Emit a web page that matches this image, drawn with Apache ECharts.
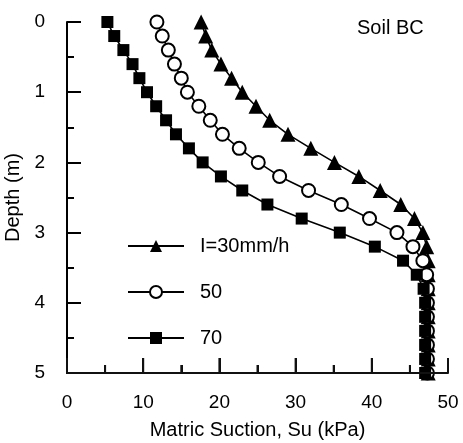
<!DOCTYPE html>
<html>
<head>
<meta charset="utf-8">
<script src="https://cdn.jsdelivr.net/npm/echarts@6/dist/echarts.min.js"></script>
<style>
  html, body { margin: 0; padding: 0; background: #fff; }
  #chart { width: 463px; height: 443px; }
</style>
</head>
<body>
<div id="chart"></div>
<script>
// depth of each reading (m)
var depths = [0, 0.2, 0.4, 0.6, 0.8, 1.0, 1.2, 1.4, 1.6, 1.8, 2.0, 2.2, 2.4, 2.6,
              2.8, 3.0, 3.2, 3.4, 3.6, 3.8, 4.0, 4.2, 4.4, 4.6, 4.8, 5.0];
// matric suction (kPa) for each rainfall intensity
var su30 = [17.6, 18.2, 19.0, 20.2, 21.6, 23.0, 24.8, 26.6, 29.0, 32.0, 35.1, 38.3, 41.1, 43.8,
            45.6, 46.7, 47.2, 47.4, 47.4, 47.4, 47.4, 47.4, 47.4, 47.4, 47.4, 47.4];
var su50 = [11.8, 12.5, 13.3, 14.1, 15.0, 15.8, 17.3, 18.8, 20.4, 22.6, 25.1, 27.9, 31.7, 36.0,
            39.7, 43.3, 45.4, 46.7, 47.2, 47.3, 47.3, 47.3, 47.3, 47.3, 47.3, 47.3];
var su70 = [5.3, 6.2, 7.4, 8.6, 9.5, 10.5, 11.7, 13.0, 14.3, 16.0, 17.8, 20.2, 23.0, 26.3,
            30.8, 35.8, 40.4, 44.1, 45.9, 46.8, 47.0, 47.0, 47.0, 47.0, 47.0, 47.0];
var names = ['I=30mm/h', '50', '70'];
var xMajor = [0, 10, 20, 30, 40, 50];
var xMinor = [5, 15, 25, 35, 45];

function pairs(su) {
    var out = [];
    for (var i = 0; i < depths.length; i++) {
        out.push([su[i], depths[i]]);
    }
    return out;
}

var font = 'Liberation Sans, Arial, sans-serif';
var ink = '#111';
var chart = echarts.init(document.getElementById('chart'));

var option = {
    backgroundColor: '#fff',
    animation: false,
    textStyle: { fontFamily: font, color: '#000' },
    grid: { left: 67, right: 15, top: 22, bottom: 70, outerBoundsMode: 'none' },
    legend: {
        orient: 'vertical',
        left: 122,
        top: 231,
        itemWidth: 56,
        itemHeight: 15,
        itemGap: 26,
        data: names,
        textStyle: { fontFamily: font, fontSize: 20, color: '#000', padding: [0, 0, 0, 11] }
    },
    xAxis: {
        type: 'value',
        position: 'bottom',
        min: 0,
        max: 50,
        interval: 10,
        name: 'Matric Suction, Su (kPa)',
        nameLocation: 'middle',
        nameGap: 47,
        nameTextStyle: { fontFamily: font, fontSize: 20, color: '#000' },
        axisLine: { show: true, onZero: false, lineStyle: { color: ink, width: 2 } },
        axisTick: { show: true, inside: true, length: 15, lineStyle: { color: ink, width: 2 } },
        minorTick: { show: true, splitNumber: 2, length: 8, lineStyle: { color: ink, width: 2 } },
        axisLabel: { fontFamily: font, fontSize: 19, color: '#000', margin: 20 },
        splitLine: { show: false }
    },
    yAxis: {
        type: 'value',
        position: 'left',
        inverse: true,
        min: 0,
        max: 5,
        interval: 1,
        name: 'Depth (m)',
        nameLocation: 'middle',
        nameGap: 35,
        nameTextStyle: { fontFamily: font, fontSize: 20, color: '#000' },
        axisLine: { show: true, onZero: false, lineStyle: { color: '#000', width: 2 } },
        axisTick: { show: true, inside: true, length: 14, lineStyle: { color: '#000', width: 2 } },
        minorTick: { show: true, splitNumber: 2, length: 7, lineStyle: { color: '#000', width: 2 } },
        axisLabel: { fontFamily: font, fontSize: 19, color: '#000', margin: 22 },
        splitLine: { show: false }
    },
    series: [{
        name: names[0],
        type: 'line',
        data: pairs(su30),
        symbol: 'triangle',
        symbolSize: 15,
        itemStyle: { color: '#000' },
        lineStyle: { color: '#000', width: 1.6 }
    }, {
        name: names[1],
        type: 'line',
        data: pairs(su50),
        symbol: 'circle',
        symbolSize: 13,
        itemStyle: { color: '#fff', borderColor: '#000', borderWidth: 2 },
        lineStyle: { color: '#000', width: 1.6 }
    }, {
        name: names[2],
        type: 'line',
        data: pairs(su70),
        symbol: 'rect',
        symbolSize: 12,
        itemStyle: { color: '#000' },
        lineStyle: { color: '#000', width: 1.6 }
    }]
};

chart.setOption(option);

// bottom axis line and inward ticks again as graphics, placed with the chart's own scales
var yBase = chart.convertToPixel({ yAxisIndex: 0 }, 5);
var xLeft = chart.convertToPixel({ xAxisIndex: 0 }, 0);
var xRight = chart.convertToPixel({ xAxisIndex: 0 }, 50);
var stroke = { stroke: ink, lineWidth: 2 };
var deco = [{
    type: 'line',
    shape: { x1: xLeft - 1, y1: yBase, x2: xRight, y2: yBase },
    style: stroke,
    z: 100
}];
xMajor.forEach(function (v) {
    var px = chart.convertToPixel({ xAxisIndex: 0 }, v);
    deco.push({ type: 'line', shape: { x1: px, y1: yBase, x2: px, y2: yBase - 15 }, style: stroke, z: 100 });
});
xMinor.forEach(function (v) {
    var px = chart.convertToPixel({ xAxisIndex: 0 }, v);
    deco.push({ type: 'line', shape: { x1: px, y1: yBase, x2: px, y2: yBase - 8 }, style: stroke, z: 100 });
});
deco.push({
    type: 'text',
    left: 357,
    top: 18,
    style: { text: 'Soil BC', fontFamily: font, fontSize: 20, fill: '#000' }
});
chart.setOption({ graphic: deco });
</script>
</body>
</html>
